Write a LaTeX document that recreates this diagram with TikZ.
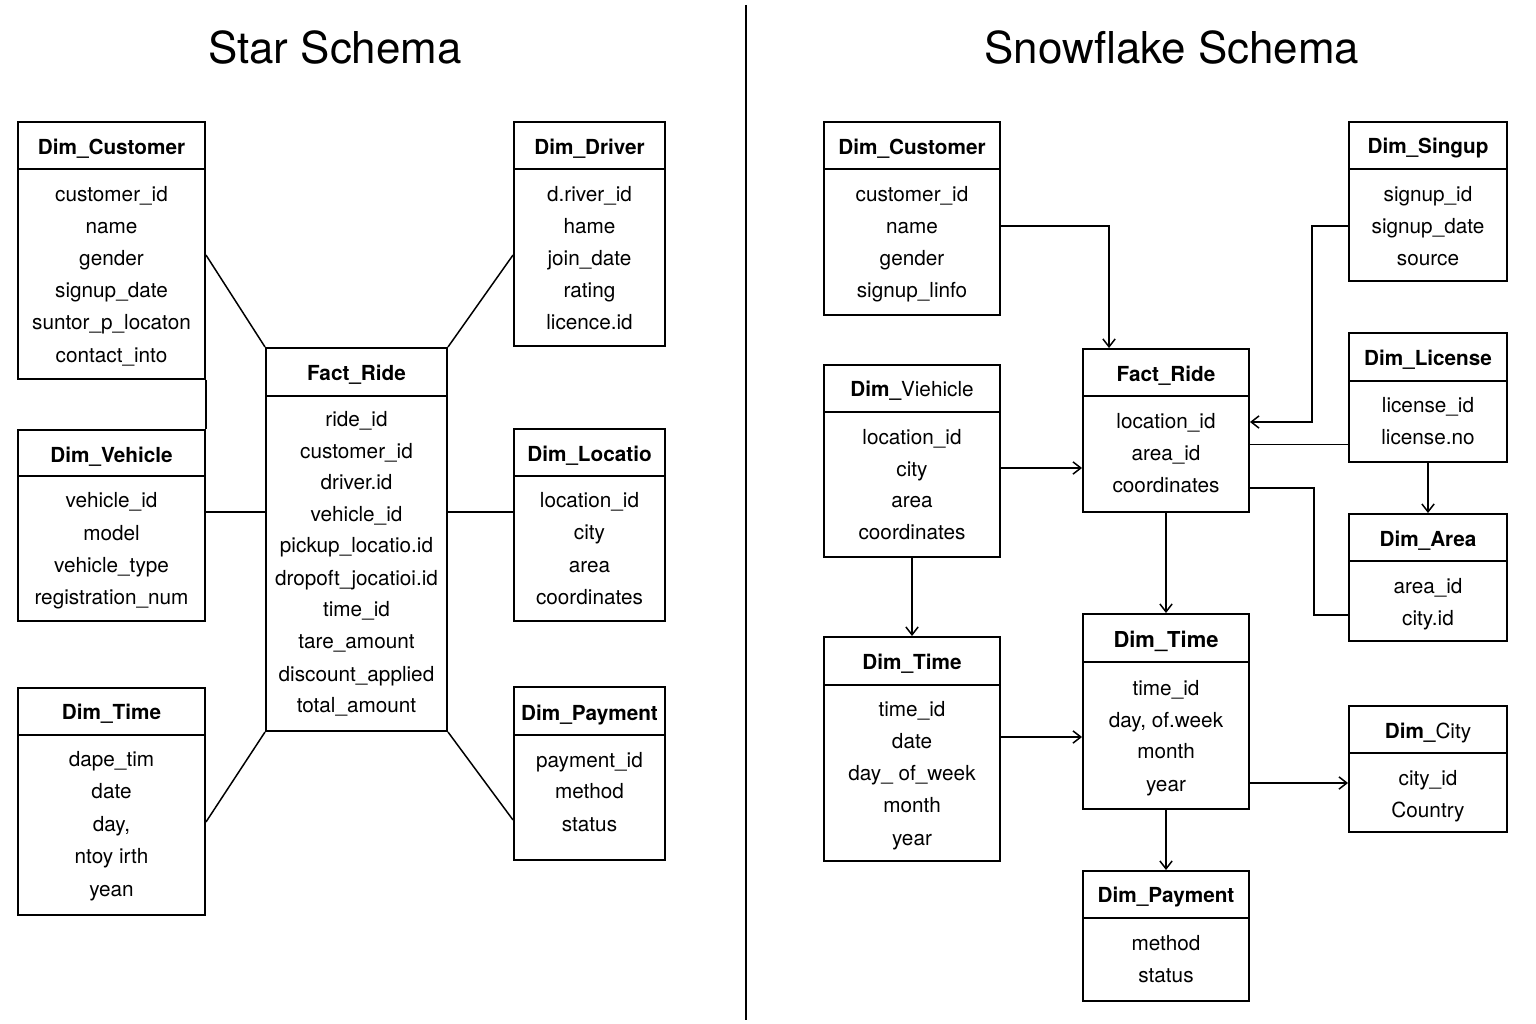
\documentclass[tikz,border=0pt]{standalone}
\usepackage{fontspec}
\setmainfont{TeX Gyre Heros}
\usetikzlibrary{fit,calc,arrows.meta}
\tikzset{
  tbox/.style={draw, line width=1.1pt, inner sep=0pt, fit={#1}},
  tline/.style={line width=1.1pt},
  ttl/.style={font=\fontsize{11.8}{14}\selectfont\bfseries, anchor=mid, inner sep=0pt, yshift=-1.6pt},
  rowtxt/.style={font=\fontsize{11.8}{14}\selectfont, anchor=mid, inner sep=0pt, yshift=-1.7pt},
  conn/.style={line width=0.85pt},
  arr/.style={line width=0.85pt, -{Straight Barb[length=4.5pt,width=7pt]}},
  bigtitle/.style={font=\fontsize{25}{30}\selectfont, anchor=base, inner sep=0pt}
}
\newcommand\Tbl[5]{\node[tbox={(#2,#3) (#4,#5)}] (#1) {};}
\newcommand\Hdr[4]{%
  \draw[tline] (#1.west |- 0,#2) -- (#1.east |- 0,#2);
  \node[ttl] (#1-t) at (#1.center |- 0,#3) {#4};}
\newcommand\Rows[2]{%
  \foreach \yy/\rtxt [count=\ii] in {#2} {\node[rowtxt] (#1-\ii) at (#1.center |- 0,\yy) {\rtxt};}}
\begin{document}
\begin{tikzpicture}[x=0.02cm,y=-0.02cm]
\useasboundingbox[fill=white] (0,0) rectangle (1536,1024);

% titles and divider
\node[bigtitle] (t1) at (335,64) {Star Schema};
\node[bigtitle] (t2) at (1172,64) {Snowflake Schema};
\draw[line width=1.2pt] (746,5) -- (746,1020);

% ---------------- Star schema ----------------
\Tbl{sCust}{18}{122}{205}{379}
\Hdr{sCust}{169}{147}{Dim\_Customer}
\Rows{sCust}{194/customer\_id,226/name,258/gender,290/signup\_date,322/suntor\_p\_locaton,355/contact\_into}

\Tbl{sVeh}{18}{430}{205}{621}
\Hdr{sVeh}{476}{455}{Dim\_Vehicle}
\Rows{sVeh}{500/vehicle\_id,533/model,565/vehicle\_type,597/registration\_num}

\Tbl{sTime}{18}{688}{205}{915}
\Hdr{sTime}{735}{712}{Dim\_Time}
\Rows{sTime}{759/dape\_tim,791/date,824/{day,},856/ntoy irth,889/yean}

\Tbl{sFact}{266}{348}{447}{731}
\Hdr{sFact}{396}{373}{Fact\_Ride}
\Rows{sFact}{419/ride\_id,451/customer\_id,482/driver.id,514/vehicle\_id,545/pickup\_locatio.id,578/dropoft\_jocatioi.id,609/time\_id,641/tare\_amount,674/discount\_applied,705/total\_amount}

\Tbl{sDrv}{514}{122}{665}{346}
\Hdr{sDrv}{169}{147}{Dim\_Driver}
\Rows{sDrv}{194/d.river\_id,226/hame,258/join\_date,290/rating,322/licence.id}

\Tbl{sLoc}{514}{429}{665}{621}
\Hdr{sLoc}{476}{454}{Dim\_Locatio}
\Rows{sLoc}{500/location\_id,532/city,565/area,597/coordinates}

\Tbl{sPay}{514}{687}{665}{860}
\Hdr{sPay}{735}{713}{Dim\_Payment}
\Rows{sPay}{760/payment\_id,791/method,824/status}

% star connectors
\draw[conn] ($(sCust.east)+(0,4.5)$) -- (sFact.north west);
\draw[conn] ($(sDrv.west)+(0,21)$) -- (sFact.north east);
\draw[conn] (sCust.south east) -- (sVeh.north east);
\coordinate (q1) at ($(sVeh.east)+(0,-13.5)$);
\draw[conn] (q1) -- (q1 -| sFact.west);
\coordinate (q2) at (sFact.east |- q1);
\draw[conn] (q2) -- (q2 -| sLoc.west);
\draw[conn] (sFact.south west) -- ($(sTime.east)+(0,20.5)$);
\draw[conn] (sFact.south east) -- ($(sPay.west)+(0,46.5)$);

% ---------------- Snowflake schema ----------------
\Tbl{fCust}{824}{122}{1000}{315}
\Hdr{fCust}{169}{147}{Dim\_Customer}
\Rows{fCust}{194/customer\_id,226/name,258/gender,290/signup\_linfo}

\Tbl{fSign}{1349}{122}{1507}{281}
\Hdr{fSign}{169}{146}{Dim\_Singup}
\Rows{fSign}{194/signup\_id,226/signup\_date,258/source}

\Tbl{fLic}{1349}{333}{1507}{462}
\Hdr{fLic}{381}{358}{Dim\_License}
\Rows{fLic}{405/license\_id,437/license.no}

\Tbl{fFact}{1083}{349}{1249}{512}
\Hdr{fFact}{396}{374}{Fact\_Ride}
\Rows{fFact}{421/location\_id,453/area\_id,485/coordinates}

\Tbl{fVeh}{824}{365}{1000}{557}
\Hdr{fVeh}{412}{389}{Dim\_{\mdseries Viehicle}}
\Rows{fVeh}{437/location\_id,469/city,500/area,532/coordinates}

\Tbl{fArea}{1349}{514}{1507}{641}
\Hdr{fArea}{561}{539}{Dim\_Area}
\Rows{fArea}{586/area\_id,618/city.id}

\Tbl{fTimeA}{824}{637}{1000}{861}
\Hdr{fTimeA}{685}{662}{Dim\_Time}
\Rows{fTimeA}{709/time\_id,741/date,773/day\_ of\_week,805/month,838/year}

\Tbl{fTimeB}{1083}{614}{1249}{809}
\Hdr{fTimeB}{662}{640}{\fontsize{12.5}{15}\selectfont Dim\_Time}
\Rows{fTimeB}{688/time\_id,720/{day, of.week},751/month,784/year}

\Tbl{fCity}{1349}{706}{1507}{832}
\Hdr{fCity}{753}{731}{Dim\_{\mdseries City}}
\Rows{fCity}{778/city\_id,810/Country}

\Tbl{fPay}{1083}{871}{1249}{1001}
\Hdr{fPay}{918}{895}{Dim\_Payment}
\Rows{fPay}{943/method,975/status}

% snowflake connectors
\draw[arr] ($(fCust.east)+(0,7.5)$) -| ($(fFact.north west)+(27,0)$);
\draw[arr] ($(fSign.west)+(0,24.5)$) -- ++(-36,0) |- ($(fFact.east)+(0,-8.5)$);
\coordinate (p1) at ($(fFact.east)+(0,14)$);
\draw[conn] (p1) -- (p1 -| fLic.west);
\draw[arr] (fLic.south) -- (fArea.north);
\coordinate (p2) at ($(fFact.east)+(0,57.5)$);
\draw[conn] (p2) -- ++(64,0) |- ($(fArea.west)+(0,37.5)$);
\coordinate (p3) at ($(fVeh.east)+(0,7)$);
\draw[arr] (p3) -- (p3 -| fFact.west);
\draw[arr] (fVeh.south) -- (fTimeA.north);
\draw[arr] (fFact.south) -- (fTimeB.north);
\coordinate (p4) at ($(fTimeA.east)+(0,-12)$);
\draw[arr] (p4) -- (p4 -| fTimeB.west);
\coordinate (p5) at ($(fTimeB.east)+(0,71.5)$);
\draw[arr] (p5) -- (p5 -| fCity.west);
\draw[arr] (fTimeB.south) -- (fPay.north);
\end{tikzpicture}
\end{document}
